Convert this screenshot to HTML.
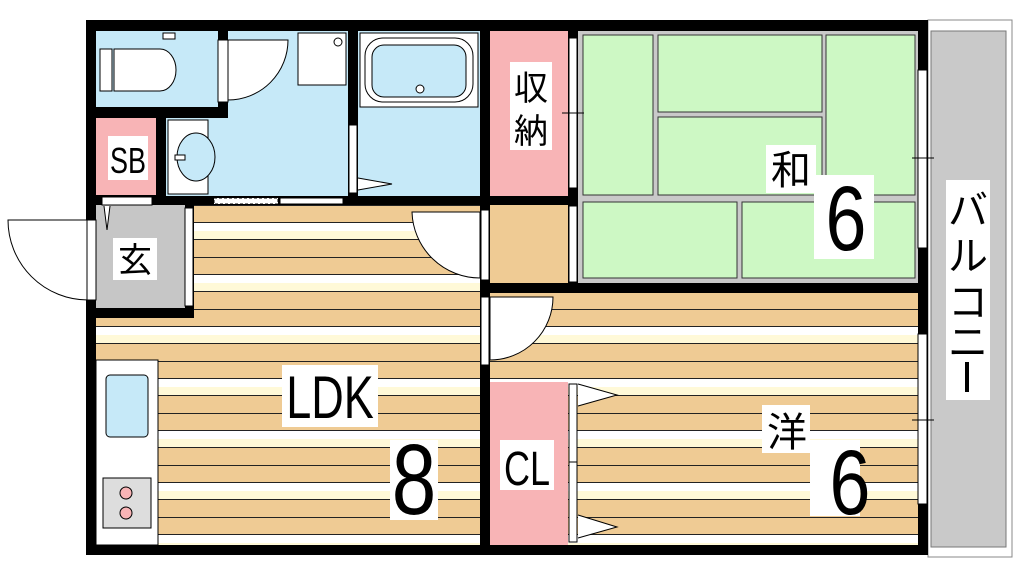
<!DOCTYPE html>
<html><head><meta charset="utf-8"><style>
body{margin:0;background:#fff}
text{font-family:"Liberation Sans","Noto Sans CJK JP",sans-serif}
</style></head><body>
<svg width="1024" height="576" viewBox="0 0 1024 576" xmlns="http://www.w3.org/2000/svg">
<defs>
<pattern id="st" x="0" y="205" width="10" height="52" patternUnits="userSpaceOnUse">
<rect width="10" height="52" fill="#fff9d8"/>
<rect y="0" width="10" height="17" fill="#efcb94"/>
<rect y="34" width="10" height="18" fill="#efcb94"/>
<rect y="17" width="10" height="9" fill="#fff"/>
<line x1="0" x2="10" y1="0.5" y2="0.5" stroke="#222" stroke-width="1"/>
<line x1="0" x2="10" y1="17.5" y2="17.5" stroke="#222" stroke-width="1"/>
<line x1="0" x2="10" y1="34.5" y2="34.5" stroke="#222" stroke-width="1"/>
</pattern>
</defs>
<rect x="928" y="20" width="84" height="537" fill="#fff" stroke="#888" stroke-width="1"/>
<rect x="931" y="31" width="75" height="516" fill="#c9c9c9" stroke="#777" stroke-width="1"/>
<rect x="86" y="20" width="842" height="535" fill="#000"/>
<rect x="96" y="31" width="122" height="76" fill="#c6e9f8"/>
<rect x="96" y="118" width="60" height="77" fill="#f8b4b6"/>
<rect x="228" y="31" width="120" height="165" fill="#c6e9f8"/>
<rect x="166" y="118" width="62" height="78" fill="#c6e9f8"/>
<rect x="358" y="31" width="122" height="165" fill="#c6e9f8"/>
<rect x="490" y="31" width="78" height="165" fill="#f8b4b6"/>
<rect x="578" y="31" width="340" height="252" fill="#c9c9c9"/>
<rect x="490" y="205" width="78" height="78" fill="#efcb94"/>
<rect x="96" y="205" width="89" height="103" fill="#c6c6c6"/>
<rect x="194" y="205" width="286" height="340" fill="url(#st)"/>
<rect x="96" y="318" width="384" height="227" fill="url(#st)"/>
<rect x="490" y="293" width="428" height="252" fill="url(#st)"/>
<rect x="490" y="382" width="78" height="163" fill="#f8b4b6"/>
<g fill="#cdf8c4" stroke="#333" stroke-width="1">
<rect x="583" y="35" width="70" height="160"/>
<rect x="658" y="35" width="164" height="77"/>
<rect x="658" y="117" width="164" height="78"/>
<rect x="826" y="35" width="89" height="160"/>
<rect x="583" y="202" width="154" height="76"/>
<rect x="742" y="202" width="173" height="76"/>
</g>
<rect x="298" y="33" width="48" height="52" fill="#fff" stroke="#000"/>
<circle cx="338" cy="42" r="4" fill="#fff" stroke="#000"/>
<rect x="168" y="120" width="40" height="74" fill="#fff" stroke="#000"/>
<ellipse cx="196" cy="157" rx="19" ry="24" fill="#c6e9f8" stroke="#000"/>
<rect x="175" y="155" width="10" height="5" fill="#fff" stroke="#000"/>
<rect x="360" y="33" width="118" height="74" fill="#fff" stroke="#000"/>
<rect x="365" y="38" width="108" height="64" rx="18" fill="#fff" stroke="#000"/>
<rect x="372" y="45" width="94" height="52" rx="12" fill="#c6e9f8" stroke="#000"/>
<circle cx="420" cy="89" r="4" fill="#fff" stroke="#000"/>
<rect x="100" y="49" width="12" height="42" fill="#fff" stroke="#000"/>
<path d="M114 49 H160 A16 21 0 0 1 160 91 H114 Z" fill="#fff" stroke="#000"/>
<rect x="163" y="33" width="12" height="6" fill="#fff" stroke="#000"/>
<path d="M228 40 H288 A60 60 0 0 1 228 100" fill="#fff" stroke="#000"/>
<rect x="218" y="40" width="10" height="62" fill="#fff" stroke="#000"/>
<rect x="349" y="125" width="8" height="68" fill="#fff" stroke="#000"/>
<path d="M358 178 L392 184 L358 190" fill="#fff" stroke="#000"/>
<rect x="214" y="198" width="64" height="6" fill="#fff" stroke="#000" stroke-dasharray="3 2"/>
<rect x="280" y="198" width="63" height="6" fill="#fff" stroke="#000"/>
<rect x="102" y="197" width="50" height="8" fill="#fff" stroke="#000"/>
<path d="M104 206 L107 230 L110 206" fill="#fff" stroke="#000"/>
<path d="M88 220 H8 A80 80 0 0 0 88 300 Z" fill="#fff" stroke="#000"/>
<rect x="87" y="220" width="9" height="80" fill="#fff" stroke="#000"/>
<rect x="185" y="208" width="8" height="98" fill="#fff" stroke="#000"/>
<path d="M480 212 H412 A68 68 0 0 0 480 278 Z" fill="#fff" stroke="#000"/>
<rect x="481" y="210" width="8" height="70" fill="#fff" stroke="#000"/>
<path d="M490 297 H553 A63 63 0 0 1 490 360 Z" fill="#fff" stroke="#000"/>
<rect x="481" y="297" width="8" height="68" fill="#fff" stroke="#000"/>
<rect x="569" y="38" width="8" height="150" fill="#fff" stroke="#000"/>
<rect x="569" y="206" width="8" height="76" fill="#fff" stroke="#000"/>
<line x1="562" y1="113" x2="584" y2="113" stroke="#000"/>
<rect x="918" y="70" width="9" height="178" fill="#fff" stroke="#000"/>
<line x1="912" y1="158" x2="934" y2="158" stroke="#000"/>
<rect x="918" y="334" width="9" height="170" fill="#fff" stroke="#000"/>
<line x1="912" y1="420" x2="934" y2="420" stroke="#000"/>
<rect x="569" y="384" width="8" height="158" fill="#fff" stroke="#000"/>
<line x1="569" y1="462" x2="577" y2="462" stroke="#000"/>
<path d="M578 384 L617 395 L578 406" fill="#fff" stroke="#000"/>
<path d="M578 515 L617 527 L578 538" fill="#fff" stroke="#000"/>
<rect x="96" y="360" width="62" height="185" fill="#fff" stroke="#000"/>
<rect x="106" y="375" width="42" height="62" rx="4" fill="#c6e9f8" stroke="#000"/>
<rect x="103" y="478" width="48" height="50" fill="#ddd" stroke="#000"/>
<circle cx="126" cy="493" r="6" fill="#f8b4b6" stroke="#000"/>
<circle cx="126" cy="513" r="6" fill="#f8b4b6" stroke="#000"/>
<g fill="#fff">
<rect x="108" y="136" width="40" height="44"/>
<rect x="113" y="238" width="44" height="42"/>
<rect x="510" y="62" width="42" height="88"/>
<rect x="766" y="145" width="50" height="48"/>
<rect x="814" y="175" width="60" height="84"/>
<rect x="946" y="180" width="44" height="220"/>
<rect x="282" y="365" width="96" height="62"/>
<rect x="390" y="440" width="48" height="80"/>
<rect x="500" y="440" width="54" height="50"/>
<rect x="762" y="405" width="48" height="48"/>
<rect x="810" y="440" width="50" height="76"/>
</g>
<g fill="#000" text-anchor="middle">
<text x="128" y="173" font-size="36" transform="translate(128 0) scale(0.75 1) translate(-128 0)">SB</text>
<text x="135" y="272" font-size="34">玄</text>
<text x="531" y="100" font-size="34">収</text>
<text x="531" y="143" font-size="34">納</text>
<text x="791" y="184" font-size="40">和</text>
<text x="846" y="250" font-size="92" transform="translate(846 0) scale(0.8 1) translate(-846 0)">6</text>
<text x="968" y="224" font-size="40">バ</text>
<text x="968" y="270" font-size="40">ル</text>
<text x="968" y="316" font-size="40">コ</text>
<text x="968" y="356" font-size="40">ニ</text>
<rect x="965" y="362" width="4" height="30" fill="#000"/>
<text x="330" y="418" font-size="60" transform="translate(330 0) scale(0.75 1) translate(-330 0)">LDK</text>
<text x="414" y="514" font-size="100" transform="translate(414 0) scale(0.8 1) translate(-414 0)">8</text>
<text x="527" y="485" font-size="48" transform="translate(527 0) scale(0.75 1) translate(-527 0)">CL</text>
<text x="787" y="446" font-size="40">洋</text>
<text x="850" y="514" font-size="92" transform="translate(850 0) scale(0.8 1) translate(-850 0)">6</text>
</g>
</svg>
</body></html>
